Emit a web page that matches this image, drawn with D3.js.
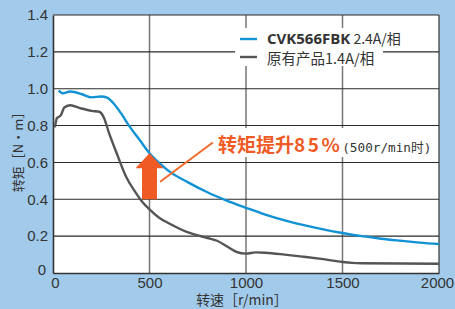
<!DOCTYPE html>
<html>
<head>
<meta charset="utf-8">
<script src="https://cdn.jsdelivr.net/npm/d3@7"></script>
<style>
  html, body { margin: 0; padding: 0; background: #a2cbeb; }
  svg { display: block; font-family: "Liberation Sans", Arial, sans-serif; }
</style>
</head>
<body>
<svg id="chart"></svg>
<script>
// speed (r/min) and torque (N·m)
const newSpeed = [30, 50, 90, 150, 200, 250, 280, 310, 350, 400, 450, 500, 550, 600, 700, 800, 900, 1000, 1100, 1200, 1300, 1400, 1500, 1600, 1700, 1800, 1900, 2000];
const newTorque = [0.99, 0.975, 0.985, 0.97, 0.953, 0.958, 0.952, 0.925, 0.87, 0.79, 0.72, 0.65, 0.597, 0.553, 0.492, 0.438, 0.393, 0.354, 0.317, 0.286, 0.26, 0.237, 0.217, 0.2, 0.186, 0.175, 0.165, 0.157];
const oldSpeed = [10, 20, 40, 60, 90, 140, 200, 240, 265, 290, 330, 380, 420, 460, 500, 550, 600, 700, 800, 850, 900, 950, 1000, 1050, 1100, 1200, 1300, 1400, 1500, 1550, 1600, 2000];
const oldTorque = [0.79, 0.84, 0.855, 0.9, 0.91, 0.895, 0.88, 0.875, 0.84, 0.76, 0.65, 0.52, 0.45, 0.39, 0.345, 0.3, 0.27, 0.22, 0.19, 0.175, 0.145, 0.115, 0.105, 0.112, 0.11, 0.1, 0.088, 0.075, 0.06, 0.055, 0.053, 0.05];
const xTicks = [0, 500, 1000, 1500, 2000];
const yTicks = [0, 0.2, 0.4, 0.6, 0.8, 1.0, 1.2, 1.4];
const seriesNames = ["CVK566FBK", "原有产品1.4A/相"];
const arrowFrom = [500, 0.4], arrowTo = [500, 0.65];

const W = 455, H = 309;
const m = { left: 53, right: 16, top: 15, bottom: 36 };
const svg = d3.select("#chart").attr("width", W).attr("height", H);

const x = d3.scaleLinear([0, 2000], [m.left, W - m.right]);
const y = d3.scaleLinear([0, 1.4], [H - m.bottom, m.top]);

svg.append("rect").attr("width", W).attr("height", H).attr("fill", "#a2cbeb");
svg.append("rect")
    .attr("x", x(0)).attr("y", y(1.4))
    .attr("width", x(2000) - x(0)).attr("height", y(0) - y(1.4))
    .attr("fill", "#fff");

// grid
svg.append("g").selectAll("line").data(xTicks.slice(1)).enter().append("line")
    .attr("x1", d => x(d)).attr("x2", d => x(d))
    .attr("y1", y(0)).attr("y2", y(1.4))
    .attr("stroke", d => d == 2000 ? "#333" : "#777").attr("stroke-width", d => d == 2000 ? 1.2 : 1.5);
svg.append("g").selectAll("line").data(yTicks.slice(1)).enter().append("line")
    .attr("x1", x(0)).attr("x2", x(2000))
    .attr("y1", d => y(d)).attr("y2", d => y(d))
    .attr("stroke", "#2a2a2a").attr("stroke-width", 1.1);

// axes
const yAxis = svg.append("g").attr("transform", `translate(${x(0)},0)`)
    .call(d3.axisLeft(y).tickValues(yTicks).tickSize(0).tickPadding(5)
        .tickFormat(d => d == 0 ? "0" : d3.format(".1f")(d)));
const xAxis = svg.append("g").attr("transform", `translate(0,${y(0)})`)
    .call(d3.axisBottom(x).tickValues(xTicks).tickSize(0).tickPadding(4).tickFormat(d3.format("d")));
[yAxis, xAxis].forEach(a => {
    a.select(".domain").attr("stroke", "#333").attr("stroke-width", 1.6);
    a.selectAll("text").attr("fill", "#333").attr("font-size", 15)
        .attr("font-family", "'Liberation Sans Narrow', 'Liberation Sans', Arial, sans-serif");
});
yAxis.selectAll(".tick").filter(d => d == 0).select("text").attr("dy", "0.1em").attr("x", -7);
xAxis.selectAll(".tick").filter(d => d == 0).select("text").attr("x", 2);
xAxis.selectAll(".tick").filter(d => d == 2000).select("text").attr("x", -2);

// white boxes behind texts
svg.append("rect").attr("x", 235).attr("y", 28).attr("width", 190).attr("height", 20).attr("fill", "#fff");
svg.append("rect").attr("x", 235).attr("y", 47).attr("width", 148).attr("height", 19).attr("fill", "#fff");
svg.append("rect").attr("x", 215).attr("y", 128).attr("width", 223).attr("height", 29).attr("fill", "#fff");

// curves
const line = d3.line().x(d => x(d[0])).y(d => y(d[1])).curve(d3.curveMonotoneX);
svg.append("path").datum(d3.zip(oldSpeed, oldTorque)).attr("d", line)
    .attr("fill", "none").attr("stroke", "#555").attr("stroke-width", 2.4);
svg.append("path").datum(d3.zip(newSpeed, newTorque)).attr("d", line)
    .attr("fill", "none").attr("stroke", "#1192d4").attr("stroke-width", 2.4);

// arrow
const ax = x(arrowFrom[0]), ay0 = y(arrowFrom[1]), ay1 = y(arrowTo[1]);
const headH = 15, headW = 14, shaftW = 7.5;
svg.append("path")
    .attr("d", `M${ax - shaftW},${ay0} L${ax - shaftW},${ay1 + headH} L${ax - headW},${ay1 + headH} L${ax},${ay1} L${ax + headW},${ay1 + headH} L${ax + shaftW},${ay1 + headH} L${ax + shaftW},${ay0} Z`)
    .attr("fill", "#f05a24");
svg.append("line")
    .attr("x1", x(555)).attr("y1", y(0.495)).attr("x2", x(828)).attr("y2", y(0.708))
    .attr("stroke", "#f26a2a").attr("stroke-width", 2);

// annotation
const ann = svg.append("text").attr("x", 218).attr("y", 152).attr("font-family", "'Noto Sans CJK SC', sans-serif");
ann.append("tspan").text("转矩提升").attr("fill", "#f05a24").attr("font-weight", "bold").attr("font-size", 19);
ann.append("tspan").text("85%").attr("fill", "#f05a24").attr("font-weight", "bold").attr("font-size", 19)
    .attr("letter-spacing", 2.5);
ann.append("tspan").text("(500r/min时)").attr("fill", "#333").attr("font-size", 12.7).attr("dx", 0)
    .attr("font-family", "'DejaVu Sans Mono', 'Noto Sans CJK SC', monospace");

// legend
const lg = svg.append("g");
lg.append("line").attr("x1", 240).attr("x2", 257).attr("y1", 39).attr("y2", 39).attr("stroke", "#1192d4").attr("stroke-width", 2.4);
lg.append("line").attr("x1", 240).attr("x2", 257).attr("y1", 57).attr("y2", 57).attr("stroke", "#555").attr("stroke-width", 2.4);
const l1 = lg.append("text").attr("x", 267).attr("y", 44).attr("fill", "#333");
l1.append("tspan").text(seriesNames[0]).attr("font-weight", "bold").attr("font-size", 15).attr("font-family", "'Open Sans', sans-serif");
l1.append("tspan").text(" 2.4A/相").attr("font-size", 14).attr("font-family", "'Noto Sans CJK SC', sans-serif");
lg.append("text").attr("x", 267).attr("y", 63.5).attr("fill", "#333").attr("font-size", 14.5)
    .attr("font-family", "'Noto Sans CJK SC', sans-serif").text(seriesNames[1]);

// axis titles
svg.append("text").attr("x", 242).attr("y", 305).attr("text-anchor", "middle").attr("fill", "#333")
    .attr("font-size", 14).attr("font-family", "'Noto Sans CJK SC', sans-serif").text("转速［r/min］");
svg.append("text").attr("transform", `translate(23,149) rotate(-90)`).attr("text-anchor", "middle").attr("fill", "#333")
    .attr("font-size", 13).attr("font-family", "'Noto Sans CJK SC', sans-serif").text("转矩［N·m］");
</script>
</body>
</html>
